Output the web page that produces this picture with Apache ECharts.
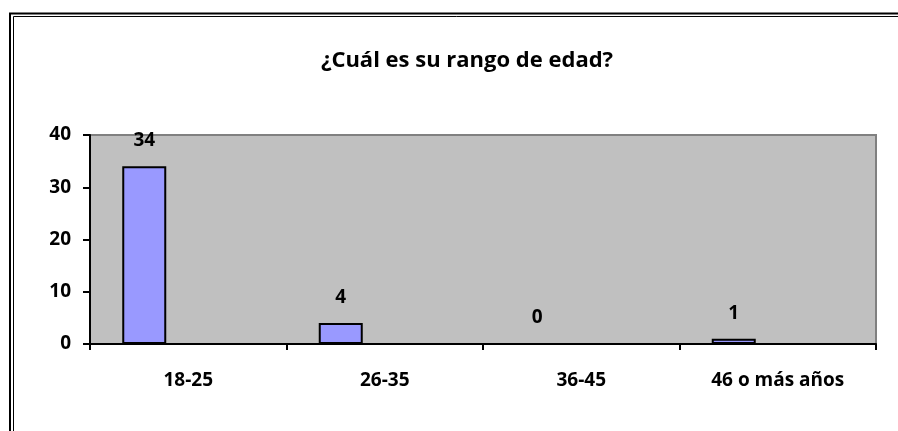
<!DOCTYPE html>
<html>
<head>
<meta charset="utf-8">
<script src="https://cdn.jsdelivr.net/npm/echarts@6/dist/echarts.min.js"></script>
<style>
html,body{margin:0;padding:0;background:#fff;}
#chart{width:898px;height:431px;}
</style>
</head>
<body>
<div id="chart"></div>
<script>
var titleText = '¿Cuál es su rango de edad?';
var categories = ['18-25', '26-35', '36-45', '46 o más años'];
var values = [34, 4, 0, 1];
var yTicks = [0, 10, 20, 30, 40];

var FONT = '"Open Sans", sans-serif';
var chart = echarts.init(document.getElementById('chart'), null, {renderer: 'canvas'});
var emptySeries = categories.map(function () { return '-'; });

chart.setOption({
  backgroundColor: '#ffffff',
  animation: false,
  title: {
    text: titleText,
    left: 462,
    top: 45,
    textAlign: 'center',
    textStyle: {fontFamily: FONT, fontWeight: 'bold', fontSize: 22, color: '#000'}
  },
  graphic: [
    {type: 'line', shape: {x1: 10, y1: 13.5, x2: 10, y2: 440}, style: {stroke: '#000', lineWidth: 2}},
    {type: 'line', shape: {x1: 9, y1: 13.5, x2: 900, y2: 13.5}, style: {stroke: '#000', lineWidth: 2}},
    {type: 'line', shape: {x1: 13.5, y1: 16.5, x2: 13.5, y2: 440}, style: {stroke: '#000', lineWidth: 1}},
    {type: 'line', shape: {x1: 13.5, y1: 16.5, x2: 900, y2: 16.5}, style: {stroke: '#000', lineWidth: 1}}
  ],
  grid: {
    left: 90, top: 135, right: 22, bottom: 87,
    show: true, backgroundColor: '#C0C0C0', borderColor: '#808080', borderWidth: 2
  },
  xAxis: {
    type: 'category',
    data: categories,
    axisLine: {lineStyle: {color: '#000', width: 2}},
    axisTick: {show: true, length: 6, alignWithLabel: false, lineStyle: {color: '#000', width: 2}},
    axisLabel: {margin: 27, fontFamily: FONT, fontWeight: 'bold', fontSize: 19, color: '#000'},
    splitLine: {show: false}
  },
  yAxis: {
    type: 'value',
    min: yTicks[0], max: yTicks[yTicks.length - 1], interval: 10,
    axisLine: {show: true, lineStyle: {color: '#000', width: 2}},
    axisTick: {show: true, length: 7, lineStyle: {color: '#000', width: 2}},
    axisLabel: {margin: 19, fontFamily: FONT, fontWeight: 'bold', fontSize: 19, color: '#000'},
    splitLine: {show: false}
  },
  series: [
    {
      type: 'bar',
      data: values,
      barWidth: 44,
      barGap: '0%',
      itemStyle: {color: '#9999FF', borderColor: '#000', borderWidth: 2},
      label: {show: true, position: 'top', distance: 16, fontFamily: FONT, fontWeight: 'bold', fontSize: 19, color: '#000'}
    },
    {type: 'bar', data: emptySeries, barWidth: 44, barGap: '0%', itemStyle: {color: 'transparent'}},
    {type: 'bar', data: emptySeries, barWidth: 44, barGap: '0%', itemStyle: {color: 'transparent'}}
  ]
});
</script>
</body>
</html>
